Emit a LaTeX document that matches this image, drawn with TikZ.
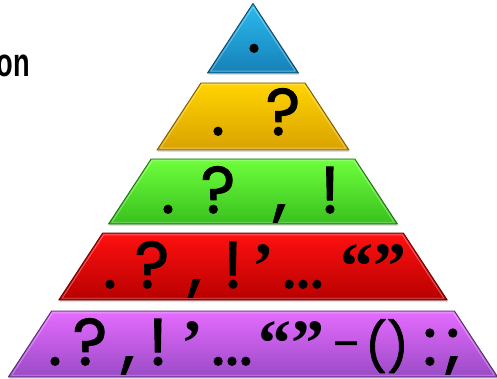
\documentclass[tikz,border=0pt]{standalone}
\usepackage{fontspec}
\setmainfont{DejaVu Sans}
\newfontfamily\titlefont{Liberation Sans}
\newfontfamily\glyphfont{Poppins}[FakeBold=1.6]
\newfontfamily\quotefont{Liberation Serif}
\usetikzlibrary{shadows}
\tikzset{
  glyph/.style={inner sep=0pt, anchor=base, text=black,
    font=\glyphfont\fontsize{66}{70}\selectfont},
  qglyph/.style={inner sep=0pt, anchor=base, text=black,
    font=\quotefont\bfseries\fontsize{66}{70}\selectfont},
  sglyph/.style={inner sep=0pt, anchor=base, text=black,
    font=\glyphfont\fontsize{#1}{#1}\selectfont},
  band/.style 2 args={top color=#1, bottom color=#2, draw=#2!55!black,
    line width=0.9pt, line join=round,
    drop shadow={shadow xshift=0.6pt, shadow yshift=-2pt, opacity=0.25}},
  bevel/.style={draw=white, line width=0.9pt, opacity=0.35, line join=round},
  title/.style={inner sep=0pt, font=\titlefont\bfseries\fontsize{40}{44}\selectfont}
}
% trapezoid band between y=#1 and y=#2, inset by #3
\newcommand\trap[3]{({253-0.655*(#1+#3-3.5)+1.2*#3},{#1+#3}) -- ({253+0.655*(#1+#3-3.5)-1.2*#3},{#1+#3}) -- ({253+0.655*(#2-#3-3.5)-1.2*#3},{#2-#3}) -- ({253-0.655*(#2-#3-3.5)+1.2*#3},{#2-#3}) -- cycle}
\definecolor{bluetop}{HTML}{2BBBEE}
\definecolor{bluebot}{HTML}{1680B8}
\definecolor{yeltop}{HTML}{FFD400}
\definecolor{yelbot}{HTML}{D9A200}
\definecolor{grntop}{HTML}{6EFF3C}
\definecolor{grnbot}{HTML}{38C01E}
\definecolor{redtop}{HTML}{FF1010}
\definecolor{redbot}{HTML}{B80000}
\definecolor{purtop}{HTML}{E56CFF}
\definecolor{purbot}{HTML}{9A4AC6}
\begin{document}
\begin{tikzpicture}[x=1pt, y=-1pt]
\useasboundingbox[fill=white] (0,0) rectangle (497,379);
% pyramid bands: x = 253 -+ 0.655*(y-3.5)
\path[band={bluetop}{bluebot}] (253,3.5) -- (298.5,73) -- (207.5,73) -- cycle;
\path[bevel] (253,7) -- (295.3,71.2) -- (210.7,71.2) -- cycle;
\path[band={yeltop}{yelbot}] \trap{83}{150}{0};
\path[bevel] \trap{83}{150}{1.8};
\path[band={grntop}{grnbot}] \trap{159}{224}{0};
\path[bevel] \trap{159}{224}{1.8};
\path[band={redtop}{redbot}] \trap{233}{300}{0};
\path[bevel] \trap{233}{300}{1.8};
\path[band={purtop}{purbot}] \trap{311}{377}{0};
\path[bevel] \trap{311}{377}{1.8};
% title fragment
\node[title, anchor=base east, xscale=0.68] (ttl) at (30,77) {on};
% level 1
\node[glyph] (b1) at (254,52) {.};
% level 2
\node[glyph] (y1) at (218,135) {.};
\node[glyph] (y2) at (283,135) {?};
% level 3
\node[glyph] (g1) at (168,213) {.};
\node[glyph] (g2) at (218,213) {?};
\node[glyph] (g3) at (280,213) {,};
\node[glyph] (g4) at (330,213) {!};
% level 4
\node[glyph] (r1) at (110,288) {.};
\node[glyph] (r2) at (152,288) {?};
\node[glyph] (r3) at (195,288) {,};
\node[glyph] (r4) at (233,288) {!};
\node[qglyph] (r5) at (263,288) {’};
\node[glyph] (r6) at (303,288) {...};
\node[qglyph] (r7) at (373,288) {“”};
% level 5
\node[glyph] (p1) at (55,365) {.};
\node[glyph] (p2) at (90,365) {?};
\node[glyph] (p3) at (128,365) {,};
\node[glyph] (p4) at (158,365) {!};
\node[qglyph] (p5) at (192,365) {’};
\node[glyph] (p6) at (232,365) {...};
\node[qglyph] (p7) at (291,365) {“”};
\node[sglyph=40] (p8) at (346,358) {–};
\node[sglyph=48] (p9) at (387,364) {()};
\node[glyph] (p10) at (430,365) {:};
\node[glyph] (p11) at (453,365) {;};
\end{tikzpicture}
\end{document}
